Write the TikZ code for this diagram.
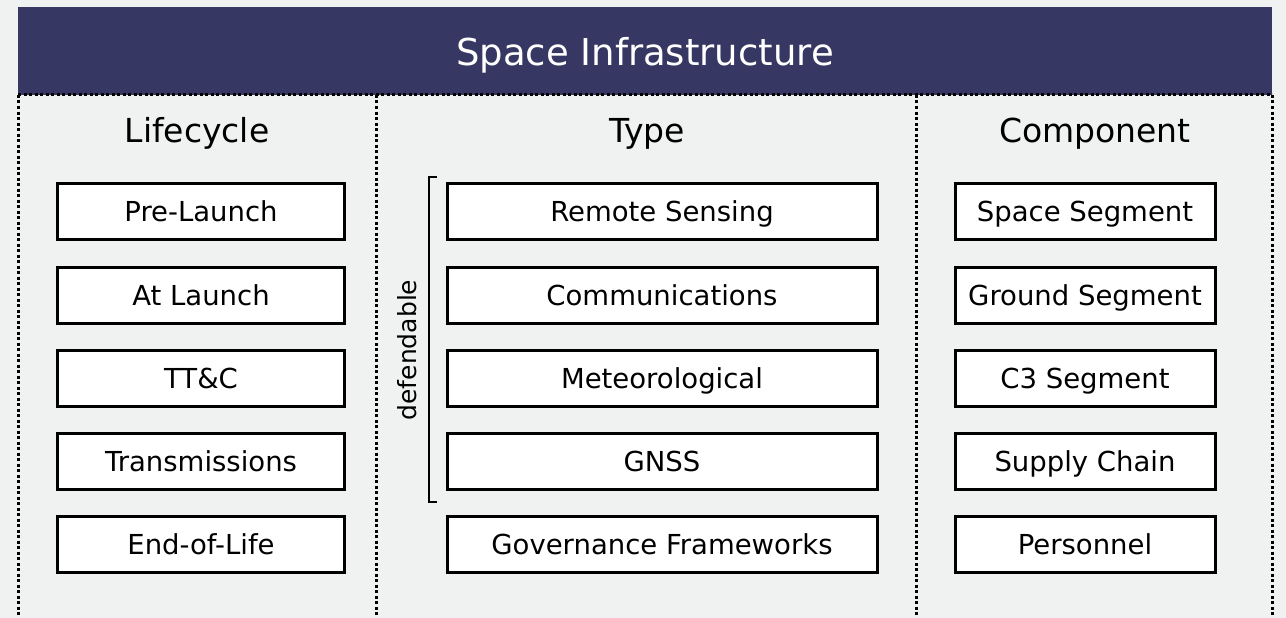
\documentclass[tikz,border=0pt]{standalone}
\usepackage{fontspec}
\setmainfont{DejaVu Sans}
\usepackage{tikz}
\usetikzlibrary{positioning}
\definecolor{custcol_bg}{RGB}{240, 242, 241}
\definecolor{custcol_head}{RGB}{55, 55, 99}
\tikzset{
  itembox/.style={draw=black, line width=3pt, fill=white, minimum width=287pt, minimum height=56pt, inner sep=0pt, text height=20pt, text depth=0pt, font=\fontsize{27.5pt}{27.5pt}\selectfont},
  colhead/.style={inner sep=0pt, text height=24pt, text depth=0pt, font=\fontsize{33pt}{33pt}\selectfont},
  coldiv/.style={line width=3pt, dash pattern=on 3pt off 2.5pt, line cap=butt}
}
\begin{document}
\begin{tikzpicture}[x=1pt,y=-1pt]
    % background and title bar
    \fill [custcol_bg] (0,0) rectangle (1286,618);
    \useasboundingbox (0,0) rectangle (1286,618);
    \fill [custcol_head] (18,7) rectangle (1272,95);
    \node [inner sep=0pt, white, text height=27pt, text depth=0pt, font=\fontsize{37pt}{37pt}\selectfont] (title) at (645,52) {Space Infrastructure};
    % column borders
    \coordinate (tl) at (18,95);
    \coordinate (tr) at (1272,95);
    \coordinate (m1) at (376,95);
    \coordinate (m2) at (916,95);
    \draw [coldiv] (tl) -- (tr);
    \draw [coldiv] (tl) -- (18,620);
    \draw [coldiv] (m1) -- (376,620);
    \draw [coldiv] (m2) -- (916,620);
    \draw [coldiv] (tr) -- (1272,620);
    % column headings
    \node [colhead] (lifecycle) at (197,130) {Lifecycle};
    \node [colhead] (type) at (647,130) {Type};
    \node [colhead] (component) at (1095,130) {Component};
    % lifecycle
    \node [itembox] (prelaunch) at (201,211) {Pre-Launch};
    \node [itembox] (atlaunch) at (201,295) {At Launch};
    \node [itembox] (ttc) at (201,378) {TT\&C};
    \node [itembox] (transmissions) at (201,461) {Transmissions};
    \node [itembox] (endoflife) at (201,544) {End-of-Life};
    % type
    \node [itembox, minimum width=430pt] (remote) at (662,211) {Remote Sensing};
    \node [itembox, minimum width=430pt] (comms) at (662,295) {Communications};
    \node [itembox, minimum width=430pt] (meteo) at (662,378) {Meteorological};
    \node [itembox, minimum width=430pt] (gnss) at (662,461) {GNSS};
    \node [itembox, minimum width=430pt] (governance) at (662,544) {Governance Frameworks};
    % component
    \node [itembox, minimum width=260pt] (spaceseg) at (1085,211) {Space Segment};
    \node [itembox, minimum width=260pt] (groundseg) at (1085,295) {Ground Segment};
    \node [itembox, minimum width=260pt] (cthreeseg) at (1085,378) {C3 Segment};
    \node [itembox, minimum width=260pt] (supply) at (1085,461) {Supply Chain};
    \node [itembox, minimum width=260pt] (personnel) at (1085,544) {Personnel};
    % defendable bracket
    \draw [line width=2.5pt] (437,177) -- (429,177) -- (429,502) -- (437,502);
    \node [inner sep=0pt, rotate=90, font=\fontsize{25pt}{25pt}\selectfont] (defendable) at (407,350) {defendable};
\end{tikzpicture}
\end{document}
